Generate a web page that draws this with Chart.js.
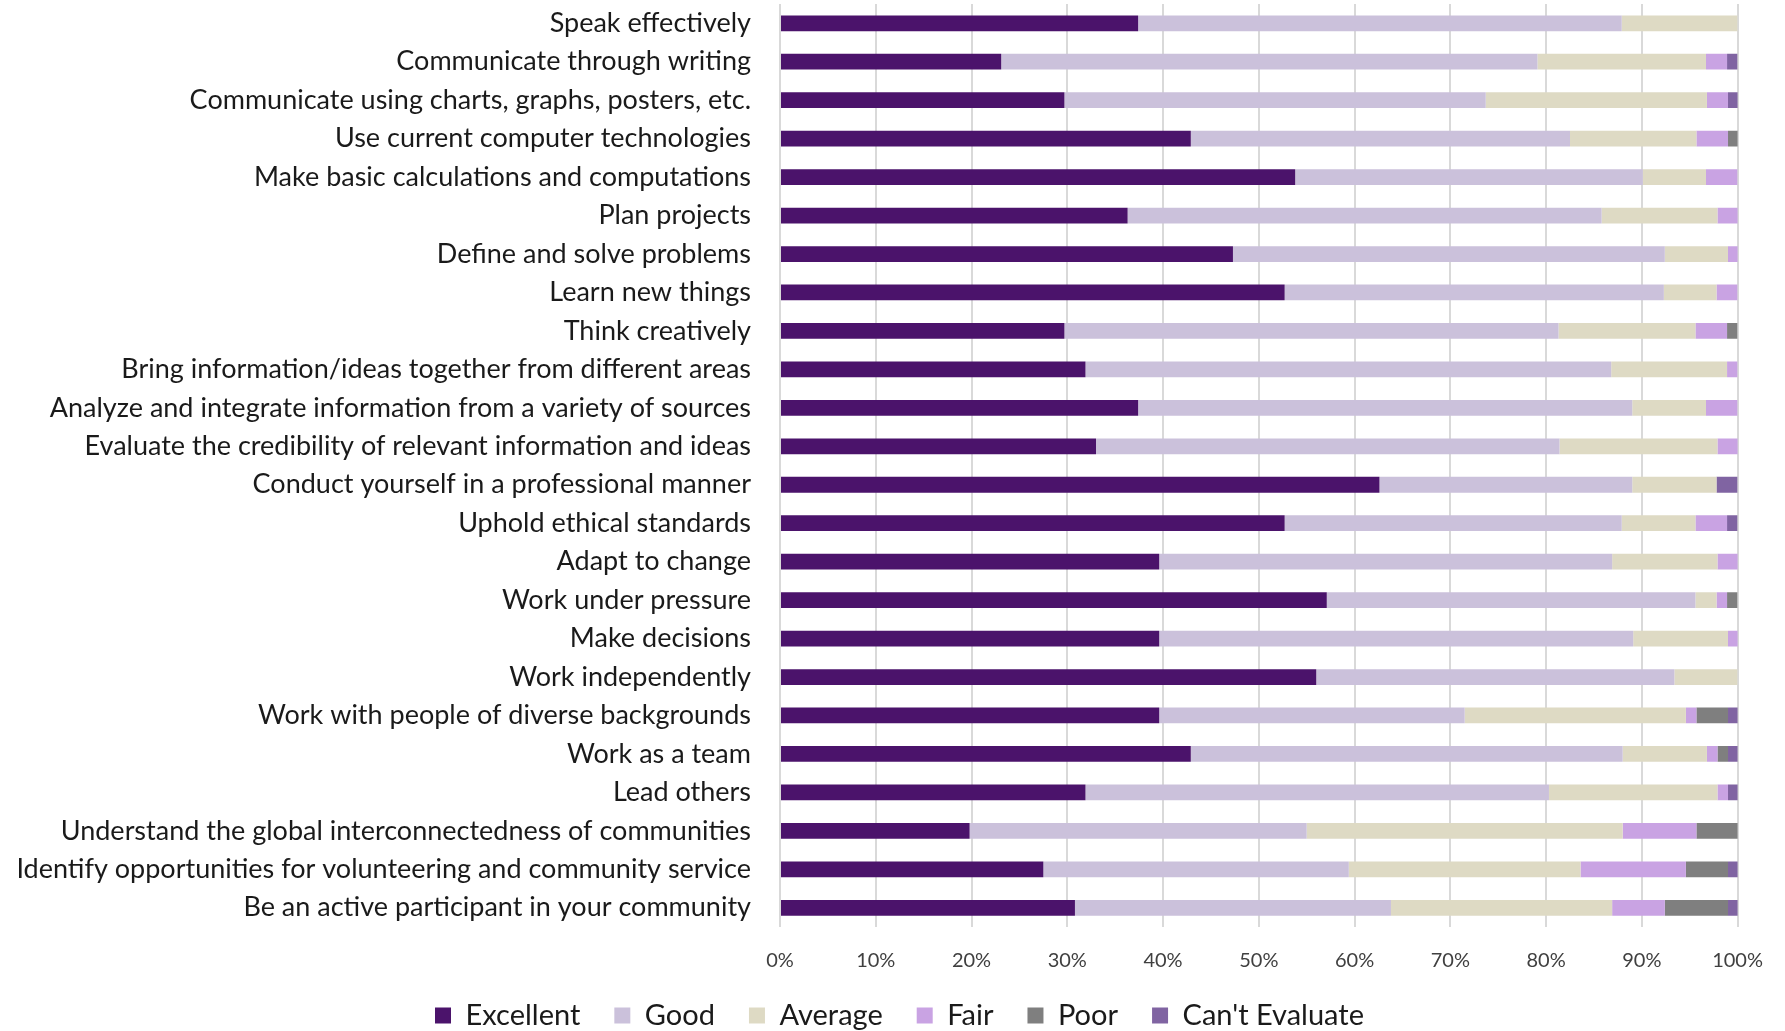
<!DOCTYPE html>
<html>
<head>
<meta charset="utf-8">
<script src="https://cdn.jsdelivr.net/npm/chart.js@4/dist/chart.umd.min.js"></script>
<style>
  html, body { margin: 0; padding: 0; background: #fff; overflow: hidden; }
  #wrap { width: 1785px; height: 1040px; position: relative; }
</style>
</head>
<body>
<div id="wrap"><canvas id="skillsChart"></canvas></div>
<script>
const skills = [
  'Speak effectively',
  'Communicate through writing',
  'Communicate using charts, graphs, posters, etc.',
  'Use current computer technologies',
  'Make basic calculations and computations',
  'Plan projects',
  'Define and solve problems',
  'Learn new things',
  'Think creatively',
  'Bring information/ideas together from different areas',
  'Analyze and integrate information from a variety of sources',
  'Evaluate the credibility of relevant information and ideas',
  'Conduct yourself in a professional manner',
  'Uphold ethical standards',
  'Adapt to change',
  'Work under pressure',
  'Make decisions',
  'Work independently',
  'Work with people of diverse backgrounds',
  'Work as a team',
  'Lead others',
  'Understand the global interconnectedness of communities',
  'Identify opportunities for volunteering and community service',
  'Be an active participant in your community'
];

// percent of respondents
const excellent = [37.4, 23.1, 29.7, 42.9, 53.8, 36.3, 47.3, 52.7, 29.7, 31.9, 37.4, 33.0, 62.6, 52.7, 39.6, 57.1, 39.6, 56.0, 39.6, 42.9, 31.9, 19.8, 27.5, 30.8];
const good      = [50.5, 56.0, 44.0, 39.6, 36.3, 49.5, 45.1, 39.6, 51.6, 54.9, 51.6, 48.4, 26.4, 35.2, 47.3, 38.5, 49.5, 37.4, 31.9, 45.1, 48.4, 35.2, 31.9, 33.0];
const average   = [12.1, 17.6, 23.1, 13.2, 6.6, 12.1, 6.6, 5.5, 14.3, 12.1, 7.7, 16.5, 8.8, 7.7, 11.0, 2.2, 9.9, 6.6, 23.1, 8.8, 17.6, 33.0, 24.2, 23.1];
const fair      = [0, 2.2, 2.2, 3.3, 3.3, 2.2, 1.1, 2.2, 3.3, 1.1, 3.3, 2.2, 0, 3.3, 2.2, 1.1, 1.1, 0, 1.1, 1.1, 1.1, 7.7, 11.0, 5.5];
const poor      = [0, 0, 0, 1.1, 0, 0, 0, 0, 1.1, 0, 0, 0, 0, 0, 0, 1.1, 0, 0, 3.3, 1.1, 0, 4.4, 4.4, 6.6];
const cantEval  = [0, 1.1, 1.1, 0, 0, 0, 0, 0, 0, 0, 0, 0, 2.2, 1.1, 0, 0, 0, 0, 1.1, 1.1, 1.1, 0, 1.1, 1.1];

const xTicks = [0, 10, 20, 30, 40, 50, 60, 70, 80, 90, 100];

const FONT = 'Lato, "Open Sans", sans-serif';

function series(label, data, color) {
  return {
    label: label,
    data: data,
    backgroundColor: color,
    borderWidth: 0,
    barPercentage: 0.41,
    categoryPercentage: 1.0
  };
}

// nudge the legend to the right, the way it sits in the original
const legendShift = {
  id: 'legendShift',
  afterLayout(chart) {
    chart.legend.left += 30;
    chart.legend.right += 30;
  }
};

const ctx = document.getElementById('skillsChart').getContext('2d');
new Chart(ctx, {
  type: 'bar',
  data: {
    labels: skills,
    datasets: [
      series('Excellent', excellent, '#4b136b'),
      series('Good', good, '#cbc1db'),
      series('Average', average, '#dedac4'),
      series('Fair', fair, '#c9a3e3'),
      series('Poor', poor, '#7f7f7f'),
      series("Can't Evaluate", cantEval, '#8064a2')
    ]
  },
  plugins: [legendShift],
  options: {
    indexAxis: 'y',
    responsive: true,
    maintainAspectRatio: false,
    animation: false,
    layout: { padding: { top: 4, right: 46, bottom: 0, left: 0 } },
    scales: {
      x: {
        stacked: true,
        min: 0,
        max: 100,
        afterBuildTicks: (axis) => { axis.ticks = xTicks.map((v) => ({ value: v })); },
        ticks: {
          callback: (v) => v + '%',
          color: '#404040',
          font: { family: FONT, size: 20 },
          padding: 22
        },
        grid: { color: '#d9d9d9', lineWidth: 2, drawTicks: false },
        border: { display: false },
        afterFit: (axis) => { axis.height = 40; }
      },
      y: {
        stacked: true,
        ticks: {
          color: '#1a1a1a',
          // small lineHeight keeps the axis from padding the top of the plot
          font: { family: FONT, size: 27, lineHeight: 0.3 },
          padding: 0,
          autoSkip: false
        },
        grid: { display: false, drawTicks: true, tickLength: 29 },
        border: { display: false },
        afterFit: (axis) => { axis.width = 780; }
      }
    },
    plugins: {
      legend: {
        position: 'bottom',
        labels: {
          color: '#1a1a1a',
          font: { family: FONT, size: 29 },
          boxWidth: 16,
          boxHeight: 16,
          padding: 34
        }
      },
      tooltip: { enabled: false }
    }
  }
});
</script>
</body>
</html>
